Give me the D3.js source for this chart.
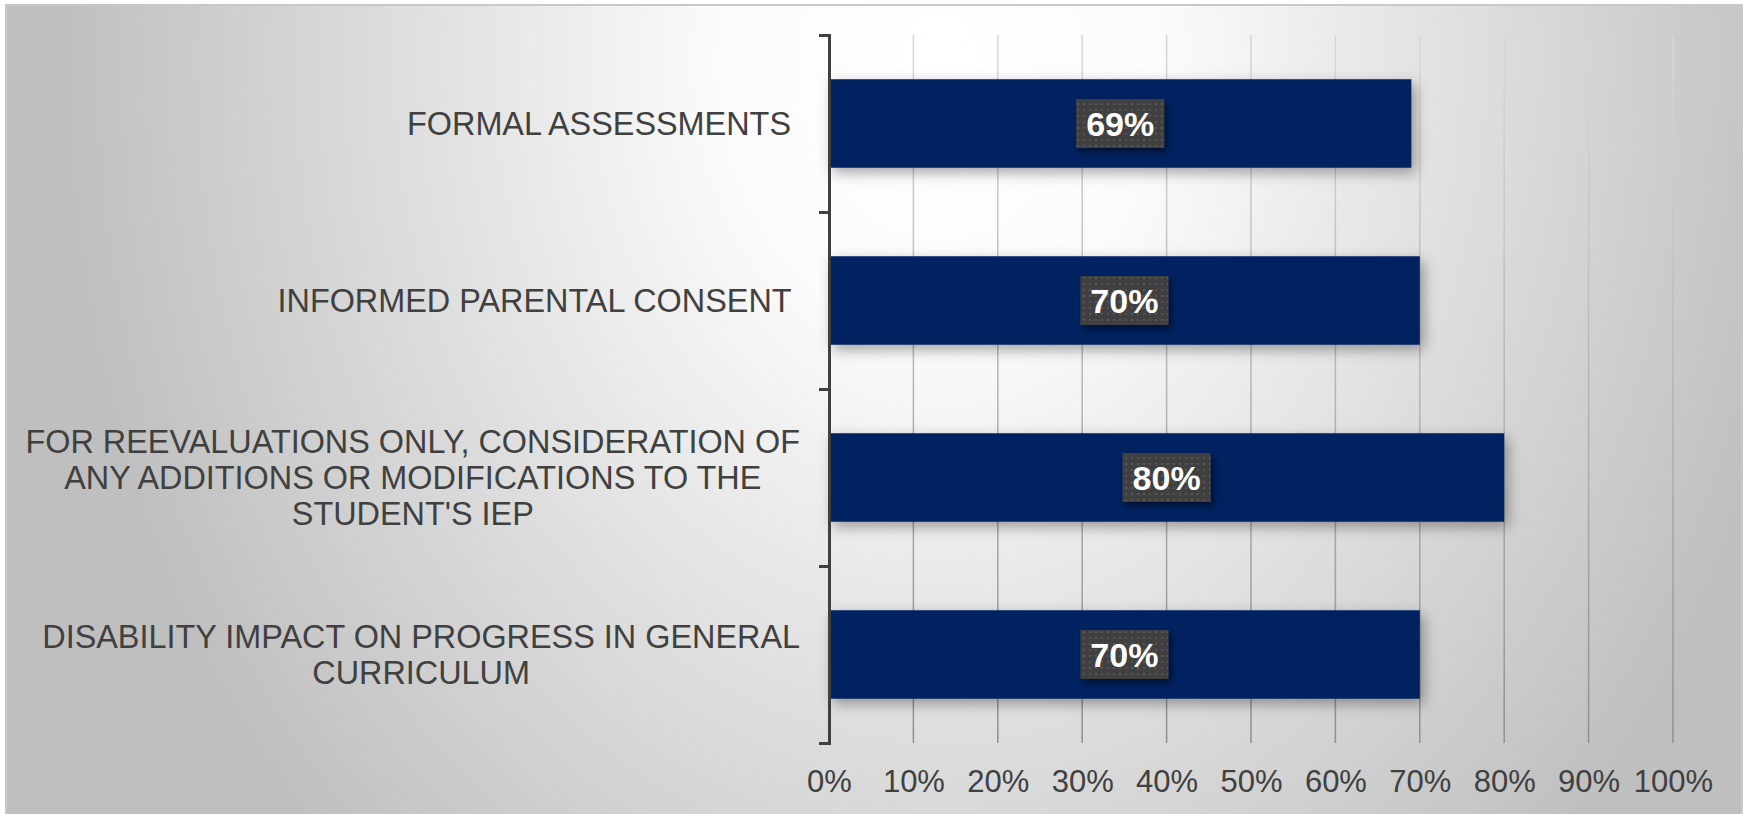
<!DOCTYPE html>
<meta charset="utf-8">
<style>
body { margin: 0; background: #fff; }
svg { display: block; font-family: "Liberation Sans", Arial, sans-serif; }
.cat { fill: #404040; font-size: 32.4px; white-space: pre; }
.x.axis text { fill: #404040; font-size: 31px; }
.x.axis path { display: none; }
.y.axis path, .y.axis line { stroke: #404040; stroke-width: 3; fill: none; }
.barLabel { fill: #fff; font-size: 34px; font-weight: bold; }
</style>
<body>
<script src="https://d3js.org/d3.v7.min.js"></script>
<script>
// chart data
var categories = [
	"FORMAL ASSESSMENTS ",
	"INFORMED PARENTAL CONSENT ",
	"FOR REEVALUATIONS ONLY, CONSIDERATION OF\nANY ADDITIONS OR MODIFICATIONS TO THE\nSTUDENT'S IEP",
	"DISABILITY IMPACT ON PROGRESS IN GENERAL\nCURRICULUM"
];
var values = [0.69, 0.70, 0.80, 0.70];
var xTicks = [0, 0.1, 0.2, 0.3, 0.4, 0.5, 0.6, 0.7, 0.8, 0.9, 1.0];

var W = 1745, H = 814;
var margin = {top: 35, right: 72, bottom: 71, left: 829},
	width = W - margin.left - margin.right,
	height = H - margin.top - margin.bottom;

var svg = d3.select("body").append("svg")
	.attr("width", W)
	.attr("height", H);

var defs = svg.append("defs");

// chart area background
var bg = defs.append("radialGradient")
	.attr("id", "bgGrad")
	.attr("gradientUnits", "userSpaceOnUse")
	.attr("cx", 940).attr("cy", 60).attr("r", 880)
	.attr("gradientTransform", "translate(940,60) scale(1,1.25) translate(-940,-60)");
bg.append("stop").attr("offset", 0).attr("stop-color", "#ffffff");
bg.append("stop").attr("offset", 0.25).attr("stop-color", "#fbfbfb");
bg.append("stop").attr("offset", 1).attr("stop-color", "#bfbfbf");

var gl = defs.append("linearGradient")
	.attr("id", "gridGrad")
	.attr("gradientUnits", "userSpaceOnUse")
	.attr("x1", 0).attr("y1", margin.top).attr("x2", 0).attr("y2", margin.top + height);
gl.append("stop").attr("offset", 0).attr("stop-color", "#d6d6d6");
gl.append("stop").attr("offset", 1).attr("stop-color", "#8c8c8c");

var pat = defs.append("pattern")
	.attr("id", "dots")
	.attr("patternUnits", "userSpaceOnUse")
	.attr("width", 6).attr("height", 6);
pat.append("rect").attr("width", 6).attr("height", 6).attr("fill", "#404040");
pat.append("rect").attr("x", 2).attr("y", 2).attr("width", 2).attr("height", 2).attr("fill", "#575757");

var sh = defs.append("filter").attr("id", "barShadow")
	.attr("x", "-10%").attr("y", "-30%").attr("width", "130%").attr("height", "170%");
sh.append("feDropShadow").attr("dx", 4).attr("dy", 5).attr("stdDeviation", 7)
	.attr("flood-color", "#000").attr("flood-opacity", 0.35);

var sh2 = defs.append("filter").attr("id", "boxShadow")
	.attr("x", "-20%").attr("y", "-30%").attr("width", "150%").attr("height", "180%");
sh2.append("feDropShadow").attr("dx", 3).attr("dy", 4).attr("stdDeviation", 3)
	.attr("flood-color", "#000").attr("flood-opacity", 0.5);

svg.append("rect")
	.attr("x", 6).attr("y", 5)
	.attr("width", W - 9).attr("height", H - 4)
	.attr("fill", "url(#bgGrad)")
	.attr("stroke", "#c8c8c8")
	.attr("stroke-width", 2);

var g = svg.append("g")
	.attr("transform", "translate(" + margin.left + "," + margin.top + ")");

var x = d3.scaleLinear().domain([0, 1]).range([0, width]);
var y = d3.scaleBand().domain(categories).range([0, height])
	.paddingInner(0.5).paddingOuter(0.25);

// gridlines
g.append("g")
	.selectAll("line")
	.data(xTicks.slice(1))
	.join("line")
	.attr("x1", function(d) { return x(d); })
	.attr("x2", function(d) { return x(d); })
	.attr("y1", 0)
	.attr("y2", height)
	.attr("stroke", "url(#gridGrad)")
	.attr("stroke-width", 1.5);

// bars
g.append("g")
	.selectAll("rect")
	.data(values)
	.join("rect")
	.attr("x", 0)
	.attr("y", function(d, i) { return y(categories[i]); })
	.attr("width", function(d) { return x(d); })
	.attr("height", y.bandwidth())
	.attr("fill", "#002060")
	.attr("filter", "url(#barShadow)");

// y axis with ticks at category boundaries
var yb = d3.scaleLinear().domain([0, categories.length]).range([0, height]);
g.append("g")
	.attr("class", "y axis")
	.call(d3.axisLeft(yb).ticks(categories.length).tickFormat("").tickSize(10));

// x axis labels
g.append("g")
	.attr("class", "x axis")
	.attr("transform", "translate(0," + height + ")")
	.call(d3.axisBottom(x).tickValues(xTicks).tickFormat(d3.format(".0%")).tickSize(0).tickPadding(26))
	.selectAll("text").attr("dy", 0).attr("y", 49);

// category labels, each block centred on itself and right aligned
var labelRight = 800 - margin.left, lineH = 36;
categories.forEach(function(c, i) {
	var lines = c.split("\n");
	var cy = y(c) + y.bandwidth() / 2;
	var t = g.append("text").attr("class", "cat").attr("text-anchor", "middle");
	lines.forEach(function(l, j) {
		t.append("tspan").attr("x", 0)
			.attr("y", cy + (j - (lines.length - 1) / 2) * lineH + 11)
			.text(l);
	});
	var maxW = 0;
	t.selectAll("tspan").each(function() { maxW = Math.max(maxW, this.getComputedTextLength()); });
	t.selectAll("tspan").attr("x", labelRight - maxW / 2);
});

// value labels in dark boxes
values.forEach(function(v, i) {
	var cx = x(v) / 2, cy = y(categories[i]) + y.bandwidth() / 2;
	var lab = g.append("g");
	var box = lab.append("rect")
		.attr("fill", "url(#dots)")
		.attr("filter", "url(#boxShadow)");
	var t = lab.append("text")
		.attr("class", "barLabel")
		.attr("x", cx)
		.attr("y", cy + 12)
		.attr("text-anchor", "middle")
		.text(d3.format(".0%")(v));
	var w = t.node().getComputedTextLength() + 20;
	box.attr("x", cx - w / 2).attr("y", cy - 24.5)
		.attr("width", w).attr("height", 49);
});
</script>
